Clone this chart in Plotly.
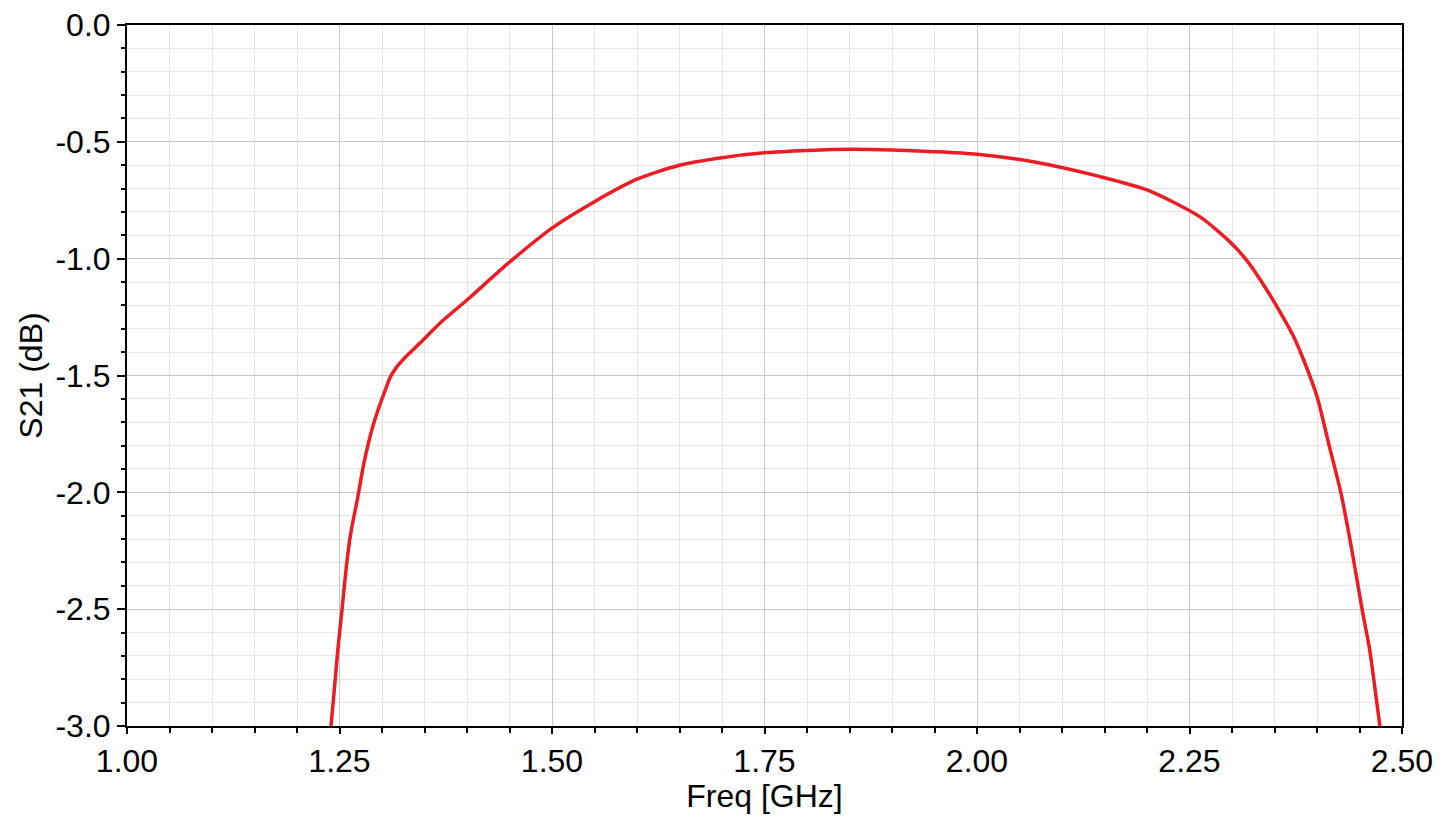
import plotly.graph_objects as go

freq_ghz = [1.240, 1.244, 1.248, 1.253, 1.258, 1.263, 1.271, 1.279, 1.289, 1.298,
            1.304, 1.310, 1.317, 1.328, 1.345, 1.370, 1.400, 1.450, 1.500, 1.550, 1.600,
            1.650, 1.700, 1.750, 1.800, 1.854, 1.900, 1.949, 2.000, 2.066, 2.145,
            2.200, 2.262, 2.301, 2.320, 2.341, 2.360, 2.372, 2.385, 2.400, 2.415, 2.428,
            2.441, 2.453, 2.462, 2.470, 2.474]
s21_db = [-3.00, -2.84, -2.675, -2.50, -2.32, -2.18, -2.03, -1.87, -1.72, -1.62,
          -1.56, -1.505, -1.465, -1.42, -1.36, -1.27, -1.177, -1.015, -0.869, -0.756, -0.660,
          -0.600, -0.568, -0.547, -0.537, -0.532, -0.535, -0.542, -0.553, -0.585, -0.649,
          -0.706, -0.820, -0.940, -1.02, -1.134, -1.25, -1.33, -1.44, -1.59, -1.81, -2.00,
          -2.247, -2.50, -2.675, -2.889, -3.00]

x_tick_vals = [1.00, 1.25, 1.50, 1.75, 2.00, 2.25, 2.50]
x_tick_text = ["1.00", "1.25", "1.50", "1.75", "2.00", "2.25", "2.50"]
y_tick_vals = [0.0, -0.5, -1.0, -1.5, -2.0, -2.5, -3.0]
y_tick_text = ["0.0", "-0.5", "-1.0", "-1.5", "-2.0", "-2.5", "-3.0"]

fig = go.Figure()
fig.add_trace(go.Scatter(
    x=freq_ghz, y=s21_db, mode="lines",
    line=dict(color="rgb(237,28,36)", width=3.5, shape="spline", smoothing=0.7),
    showlegend=False, hoverinfo="x+y",
))

font = dict(family="Liberation Sans, Arial, sans-serif", size=32, color="black")

fig.update_layout(
    width=1429, height=806,
    margin=dict(l=119, r=35, t=17, b=88),
    paper_bgcolor="white", plot_bgcolor="white",
    font=font,
)
fig.update_xaxes(
    range=[1.0, 2.5], tickvals=x_tick_vals, ticktext=x_tick_text,
    showline=True, linecolor="black", linewidth=2, mirror=True,
    ticks="outside", ticklen=6, tickwidth=2, tickcolor="black",
    showgrid=True, gridcolor="#c8c8c8", gridwidth=1,
    minor=dict(dtick=0.05, tick0=1.0, showgrid=True, gridcolor="#e6e6e6", gridwidth=1,
               ticks="outside", ticklen=5, tickwidth=2, tickcolor="black"),
    title=dict(text="Freq [GHz]", font=font, standoff=4),
    tickfont=font, zeroline=False, automargin=False, ticklabeloverflow="allow",
)
fig.update_yaxes(
    range=[-3.0, 0.0], tickvals=y_tick_vals, ticktext=y_tick_text,
    showline=True, linecolor="black", linewidth=2, mirror=True,
    ticks="outside", ticklen=8, tickwidth=2, tickcolor="black",
    showgrid=True, gridcolor="#c8c8c8", gridwidth=1,
    minor=dict(dtick=0.1, tick0=0.0, showgrid=True, gridcolor="#e6e6e6", gridwidth=1,
               ticks="outside", ticklen=4, tickwidth=2, tickcolor="black"),
    title=dict(text="S21 (dB)", font=font, standoff=3),
    tickfont=font, zeroline=False, automargin=False, ticklabeloverflow="allow",
)

fig.write_html("out.html")
